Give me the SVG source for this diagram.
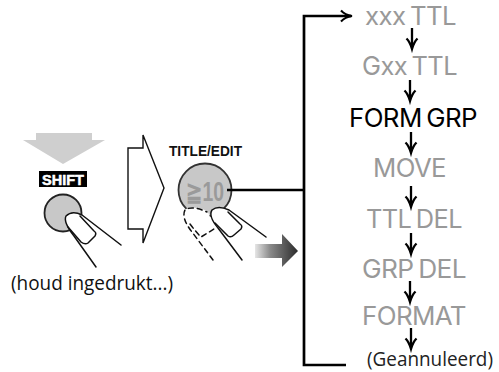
<svg xmlns="http://www.w3.org/2000/svg" width="499" height="372" viewBox="0 0 499 372">
  <style>
    text { font-family: "Inter", "Open Sans", sans-serif; }
    .step { font-size: 25.500px; fill: #999; font-weight: 400; letter-spacing: -0.6px; word-spacing: -2px; }
    .note { font-family: "Open Sans", sans-serif; font-size: 20px; fill: #111; }
    .key { font-family: "Liberation Sans", sans-serif; font-weight: 700; }
    .wire { fill: none; stroke: #000; stroke-width: 2.700; }
    .ink { fill: none; stroke: #111; stroke-width: 1.500; stroke-linecap: round; stroke-linejoin: round; }
    .dash { stroke-dasharray: 5 4; }
  </style>
  <defs>
    <linearGradient id="fade" x1="255" x2="298" y1="0" y2="0" gradientUnits="userSpaceOnUse">
      <stop offset="0" stop-color="#e6e6e6"/>
      <stop offset="0.35" stop-color="#8a8a8a"/>
      <stop offset="1" stop-color="#2b2b2b"/>
    </linearGradient>
    <path id="down" d="M0 0V19M-5.500 10.500Q-2 14 0 21Q2 14 5.500 10.500" fill="none" stroke="#000" stroke-width="2.300"/>
  </defs>

  <g id="press-arrow">
    <polygon points="36,133 92,133 92,140 105,140 63,164 23,140 36,140" fill="#cfcfcf"/>
  </g>
  <g id="shift-key">
    <rect x="39" y="171" width="48" height="16" fill="#000"/>
    <text class="key" x="42" y="184.500" font-size="15" fill="#fff" stroke="#fff" stroke-width="0.500" textLength="42" lengthAdjust="spacingAndGlyphs">SHIFT</text>
  </g>
  <g id="shift-button">
    <circle cx="63" cy="213" r="18.500" fill="#c8c8c8" stroke="#222" stroke-width="1.800"/>
    <path d="M96 267L73 235Q63 222 66 216Q72 210 82 215L121 245L90 250Z" fill="#fff"/>
    <path class="ink" d="M96 267L74 236Q63 222 66 216Q72 210 82 215L121 245"/>
    <path class="ink" d="M68 227L81 242Q85 245 88 243L95 236Q97 233 94 231L80 216"/>
  </g>
  <g id="hold-label">
    <text class="note" x="11" y="290" textLength="162" lengthAdjust="spacingAndGlyphs">(houd ingedrukt...)</text>
  </g>
  <g id="next-arrow">
    <polygon points="128,148 143,148 143,135 164,188 143,243 143,229 128,229" fill="#fff" stroke="#111" stroke-width="1.400"/>
  </g>
  <g id="title-button">
    <text class="key" x="169" y="156" font-size="15" fill="#111" textLength="73" lengthAdjust="spacingAndGlyphs">TITLE/EDIT</text>
    <circle cx="205" cy="190" r="26.500" fill="#c8c8c8" stroke="#333" stroke-width="1.800"/>
    <text class="key" x="186" y="201" font-size="27" fill="#9a9a9a" textLength="38" lengthAdjust="spacingAndGlyphs">≧10</text>
    <path d="M184 218Q183 207 190 208Q200 207 208 212L216 232L203 238L193 232Z" fill="#fff"/>
    <path class="ink dash" d="M213 260L192 232Q181 218 185 210Q192 205 207 212"/>
    <path class="ink dash" d="M190 224Q196 232 201 237L214 229"/>
    <path d="M242 260L218 228Q208 216 212 210Q218 205 228 210L266 237L232 240Z" fill="#fff"/>
    <path class="ink" d="M242 260L218 228Q208 216 212 210Q218 205 229 210L266 237"/>
    <path class="ink" d="M215 223L228 236Q231 238 234 235L241 229Q243 226 240 224L228 212"/>
  </g>
  <g id="release-arrow">
    <polygon points="255,244 282,244 282,234 298,251 282,267 282,258 255,258" fill="url(#fade)"/>
  </g>

  <g id="steps">
    <g id="step-xxx"><text class="step" x="365" y="24.500" textLength="91" lengthAdjust="spacingAndGlyphs">xxx TTL</text></g>
    <g id="step-gxx"><text class="step" x="362" y="75" textLength="95" lengthAdjust="spacingAndGlyphs">Gxx TTL</text></g>
    <g id="step-form-grp"><text class="step" x="349" y="127" style="fill:#000" textLength="128" lengthAdjust="spacingAndGlyphs">FORM GRP</text></g>
    <g id="step-move"><text class="step" x="373" y="177" textLength="73" lengthAdjust="spacingAndGlyphs">MOVE</text></g>
    <g id="step-ttl-del"><text class="step" x="366" y="228" textLength="96" lengthAdjust="spacingAndGlyphs">TTL DEL</text></g>
    <g id="step-grp-del"><text class="step" x="362" y="278" textLength="104" lengthAdjust="spacingAndGlyphs">GRP DEL</text></g>
    <g id="step-format"><text class="step" x="362" y="325" textLength="104" lengthAdjust="spacingAndGlyphs">FORMAT</text></g>
    <g id="step-cancelled"><text class="note" x="367" y="366" style="fill:#222" textLength="126" lengthAdjust="spacingAndGlyphs">(Geannuleerd)</text></g>
  </g>

  <g id="connectors">
    <path class="wire" d="M227 190H304M351 16H304V365H346"/>
    <path d="M341 10.500Q345 15 352 16Q345 17 341 21.500" fill="none" stroke="#000" stroke-width="2"/>
    <use href="#down" x="412" y="28"/>
    <use href="#down" x="410" y="80"/>
    <use href="#down" x="411" y="132"/>
    <use href="#down" x="411" y="186"/>
    <use href="#down" x="411" y="233"/>
    <use href="#down" x="410" y="281"/>
    <use href="#down" x="411" y="328"/>
  </g>
</svg>
